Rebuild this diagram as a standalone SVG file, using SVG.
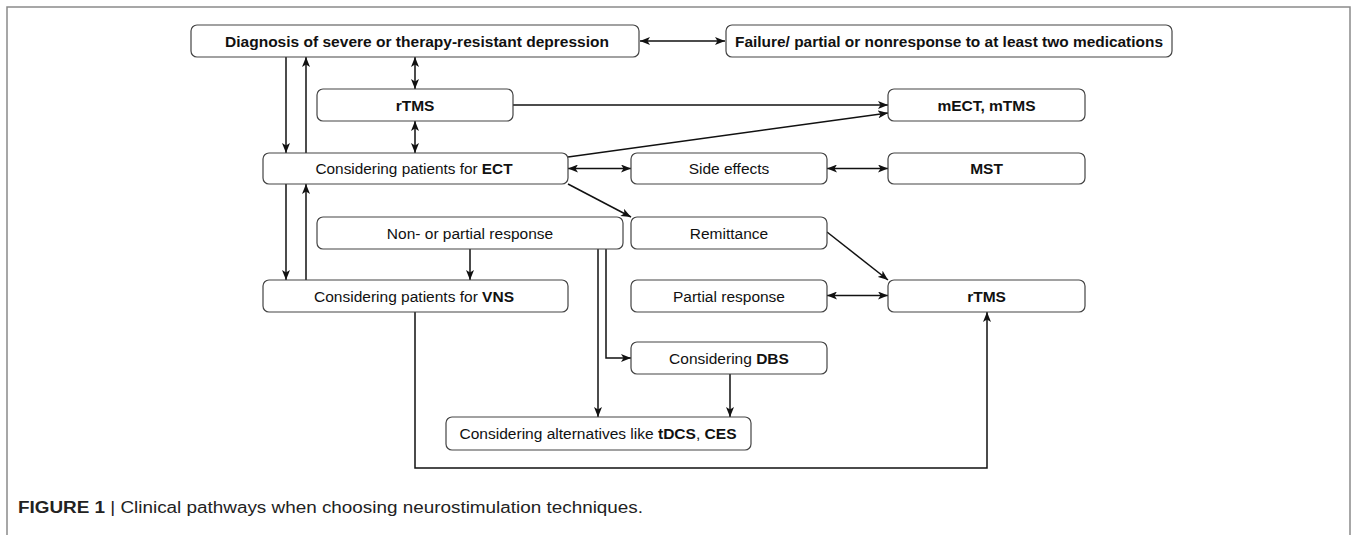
<svg xmlns="http://www.w3.org/2000/svg" width="1357" height="535" viewBox="0 0 1357 535">
<defs>
<style>
.box{fill:#fff;stroke:#444;stroke-width:1.2}
.t{font-family:"Liberation Sans",Arial,sans-serif;font-size:15.5px;fill:#111;text-anchor:middle}
.b{font-weight:bold}
.c{fill:none;stroke:#111;stroke-width:1.5}
.cap{font-family:"Liberation Sans",Arial,sans-serif;font-size:16px;fill:#222}
</style>
<marker id="ah" viewBox="0 0 10 8" refX="10" refY="4" markerWidth="10" markerHeight="8" markerUnits="userSpaceOnUse" orient="auto-start-reverse">
<path d="M0,0 L10,4 L0,8 L2.5,4 Z" fill="#111"/>
</marker>
</defs>
<rect width="1357" height="535" fill="#fff"/>
<path d="M7,540 V7 H1350 V540" fill="none" stroke="#8a8a8a" stroke-width="1.5"/>

<g id="connectors">
<line class="c" x1="640" y1="41" x2="725" y2="41" marker-start="url(#ah)" marker-end="url(#ah)"/>
<line class="c" x1="286" y1="57" x2="286" y2="153" marker-end="url(#ah)"/>
<line class="c" x1="306" y1="153" x2="306" y2="57" marker-end="url(#ah)"/>
<line class="c" x1="415" y1="57" x2="415" y2="89" marker-start="url(#ah)" marker-end="url(#ah)"/>
<line class="c" x1="415" y1="121" x2="415" y2="153" marker-start="url(#ah)" marker-end="url(#ah)"/>
<line class="c" x1="513" y1="105" x2="888" y2="105" marker-end="url(#ah)"/>
<line class="c" x1="568" y1="157" x2="888" y2="113" marker-end="url(#ah)"/>
<line class="c" x1="568" y1="168.5" x2="631" y2="168.5" marker-start="url(#ah)" marker-end="url(#ah)"/>
<line class="c" x1="827" y1="168.5" x2="888" y2="168.5" marker-start="url(#ah)" marker-end="url(#ah)"/>
<line class="c" x1="568" y1="184" x2="631" y2="217" marker-end="url(#ah)"/>
<line class="c" x1="286" y1="184" x2="286" y2="280" marker-end="url(#ah)"/>
<line class="c" x1="306" y1="280" x2="306" y2="184" marker-end="url(#ah)"/>
<line class="c" x1="470" y1="249" x2="470" y2="280" marker-end="url(#ah)"/>
<line class="c" x1="598" y1="249" x2="598" y2="417" marker-end="url(#ah)"/>
<path class="c" d="M606,249 V358 H631" marker-end="url(#ah)"/>
<line class="c" x1="827" y1="232" x2="888" y2="280" marker-end="url(#ah)"/>
<line class="c" x1="827" y1="295.5" x2="888" y2="295.5" marker-start="url(#ah)" marker-end="url(#ah)"/>
<line class="c" x1="730" y1="374" x2="730" y2="417" marker-end="url(#ah)"/>
<path class="c" d="M415,312 V468 H987 V312" marker-end="url(#ah)"/>
</g>

<g id="n-diagnosis"><rect class="box" x="191" y="25" width="448" height="32" rx="6"/><text class="t b" x="417" y="46.5" textLength="384" lengthAdjust="spacingAndGlyphs">Diagnosis of severe or therapy-resistant depression</text></g>
<g id="n-failure"><rect class="box" x="726" y="25" width="446" height="32" rx="6"/><text class="t b" x="949" y="46.5" textLength="428" lengthAdjust="spacingAndGlyphs">Failure/ partial or nonresponse to at least two medications</text></g>
<g id="n-rtms-top"><rect class="box" x="317" y="89" width="196" height="32" rx="6"/><text class="t b" x="415" y="110.5">rTMS</text></g>
<g id="n-mect"><rect class="box" x="888" y="89" width="197" height="32" rx="6"/><text class="t b" x="986.5" y="110.5">mECT, mTMS</text></g>
<g id="n-ect"><rect class="box" x="263" y="153" width="305" height="31" rx="6"/><text class="t" x="414" y="174" textLength="197" lengthAdjust="spacingAndGlyphs">Considering patients for <tspan class="b">ECT</tspan></text></g>
<g id="n-side"><rect class="box" x="631" y="153" width="196" height="31" rx="6"/><text class="t" x="729" y="174">Side effects</text></g>
<g id="n-mst"><rect class="box" x="888" y="153" width="197" height="31" rx="6"/><text class="t b" x="986.5" y="174">MST</text></g>
<g id="n-nonresp"><rect class="box" x="317" y="217" width="306" height="32" rx="6"/><text class="t" x="470" y="238.5">Non- or partial response</text></g>
<g id="n-remit"><rect class="box" x="631" y="217" width="196" height="32" rx="6"/><text class="t" x="729" y="238.5">Remittance</text></g>
<g id="n-vns"><rect class="box" x="263" y="280" width="305" height="32" rx="6"/><text class="t" x="414" y="301.5" textLength="200" lengthAdjust="spacingAndGlyphs">Considering patients for <tspan class="b">VNS</tspan></text></g>
<g id="n-partial"><rect class="box" x="631" y="280" width="196" height="32" rx="6"/><text class="t" x="729" y="301.5">Partial response</text></g>
<g id="n-rtms-bot"><rect class="box" x="888" y="280" width="197" height="32" rx="6"/><text class="t b" x="986.5" y="301.5">rTMS</text></g>
<g id="n-dbs"><rect class="box" x="631" y="342" width="196" height="32" rx="6"/><text class="t" x="729" y="363.5">Considering <tspan class="b">DBS</tspan></text></g>
<g id="n-alt"><rect class="box" x="446" y="417" width="305" height="33" rx="6"/><text class="t" x="598" y="439" textLength="277" lengthAdjust="spacingAndGlyphs">Considering alternatives like <tspan class="b">tDCS</tspan>, <tspan class="b">CES</tspan></text></g>

<text class="cap" x="18" y="513" textLength="625" lengthAdjust="spacingAndGlyphs"><tspan font-weight="bold">FIGURE 1</tspan> | Clinical pathways when choosing neurostimulation techniques.</text>
</svg>
